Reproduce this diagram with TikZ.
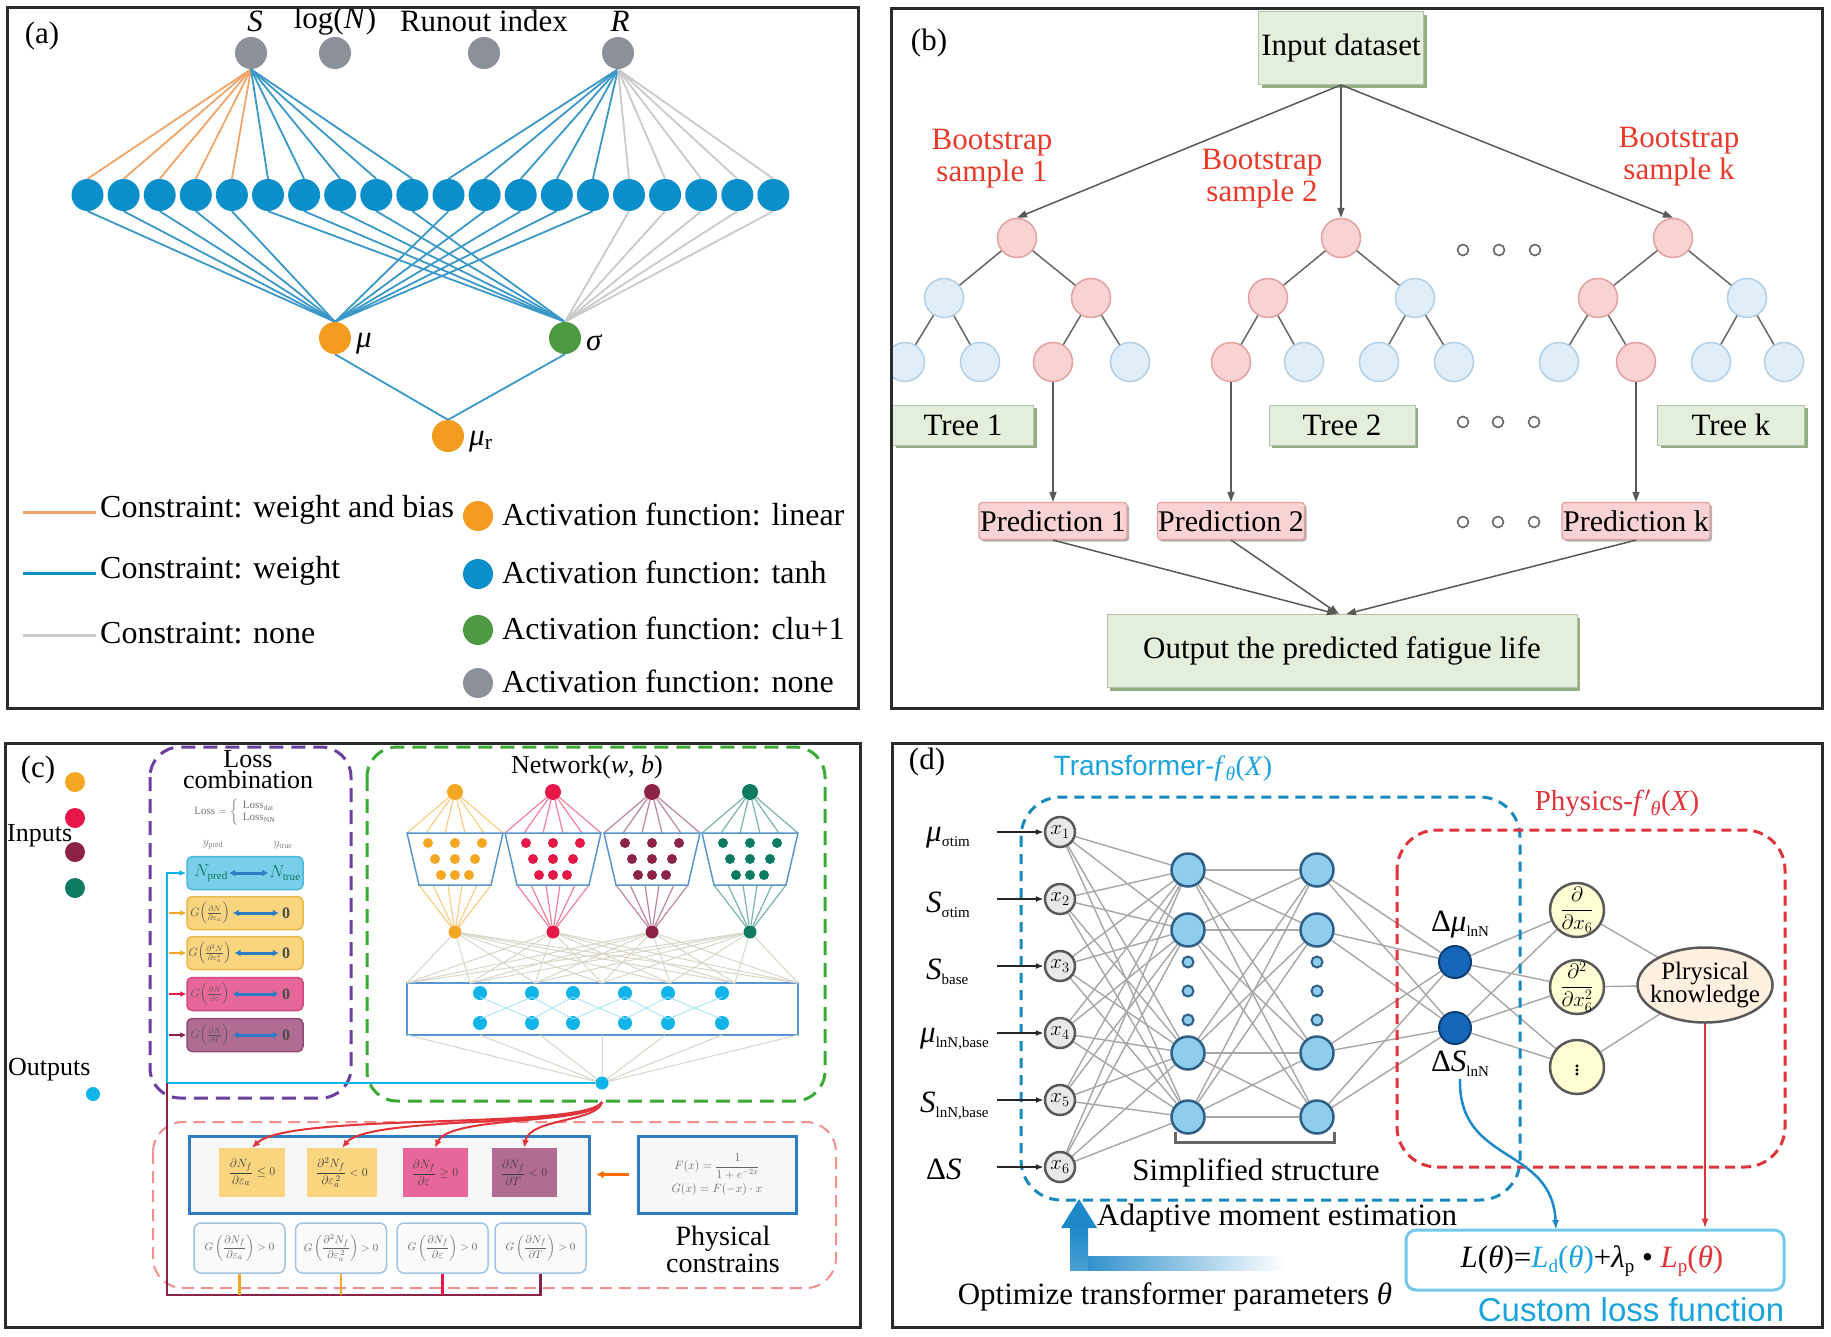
\documentclass[tikz,border=0pt]{standalone}
\usepackage{amsmath}
\usepackage{fontspec}
\setmainfont{Liberation Serif}
\newfontfamily\sansf{Liberation Sans}
\usetikzlibrary{arrows.meta,shapes.geometric,shadows}
\pgfdeclarelayer{bgw}
\pgfdeclarelayer{bg}
\pgfsetlayers{bgw,bg,main}
\definecolor{aOr}{HTML}{F39C1F}
\definecolor{aOrL}{HTML}{F0A56A}
\definecolor{aBl}{HTML}{0A8FCB}
\definecolor{aBlL}{HTML}{3A98C8}
\definecolor{aGr}{HTML}{4E9A43}
\definecolor{aGy}{HTML}{8C9099}
\definecolor{aGyL}{HTML}{CACACA}
\definecolor{bRed}{HTML}{E8392A}
\definecolor{bRF}{HTML}{F9D3D3}
\definecolor{bRD}{HTML}{E2A0A0}
\definecolor{bBF}{HTML}{DFEEF9}
\definecolor{bBD}{HTML}{B3CFE5}
\definecolor{bGF}{HTML}{E3EFDA}
\definecolor{bGS}{HTML}{93AE80}
\definecolor{cOr}{HTML}{F5A623}
\definecolor{cCr}{HTML}{E8174A}
\definecolor{cMa}{HTML}{8B2346}
\definecolor{cTe}{HTML}{0E7A5F}
\definecolor{cCy}{HTML}{10B4E6}
\definecolor{cPu}{HTML}{6A3FA0}
\definecolor{cGn}{HTML}{3AAA35}
\definecolor{cPk}{HTML}{F29090}
\definecolor{cBx}{HTML}{2E7CC4}
\definecolor{cLn}{HTML}{D8D6C8}
\definecolor{cYF}{HTML}{F8D57E}
\definecolor{cYD}{HTML}{E8B84A}
\definecolor{cPF}{HTML}{E7679A}
\definecolor{cPD}{HTML}{D04A80}
\definecolor{cMF}{HTML}{B06C93}
\definecolor{cMD}{HTML}{8F4A75}
\definecolor{cCF}{HTML}{79CFEA}
\definecolor{cCD}{HTML}{4DB8DC}
\definecolor{dCy}{HTML}{1AA3DD}
\definecolor{dRd}{HTML}{E0343A}
\definecolor{dHid}{HTML}{8FCDEF}
\definecolor{dHidD}{HTML}{2F5F85}
\definecolor{dOut}{HTML}{1565B8}
\definecolor{dOutD}{HTML}{0D3F73}
\definecolor{dArr}{HTML}{1E88C8}
\definecolor{frm}{HTML}{2B2B2B}
\newcommand{\sbs}[1]{\raisebox{-0.35ex}{\fontsize{15}{15}\selectfont #1}}
\newcommand{\sbm}[1]{\raisebox{-0.35ex}{\fontsize{19}{19}\selectfont #1}}
\begin{document}
\begin{tikzpicture}[x=1pt,y=-1pt,
  every node/.style={font=\fontsize{31}{35}\selectfont, inner sep=2pt},
  lgtext/.style={anchor=west,font=\fontsize{32}{36}\selectfont},
  anode/.style={circle,minimum size=32pt,inner sep=0pt},
  lgnode/.style={circle,minimum size=30pt,inner sep=0pt},
  tR/.style={circle,minimum size=39pt,inner sep=0pt,fill=bRF,draw=bRD,line width=1.5pt},
  tB/.style={circle,minimum size=39pt,inner sep=0pt,fill=bBF,draw=bBD,line width=1.5pt},
  tedge/.style={draw=black!60,line width=1.5pt},
  barrow/.style={draw=black!65,line width=1.5pt,-{Triangle[length=10pt,width=7pt]}},
  gbox/.style={rectangle,fill=bGF,draw=bGF!80!black,line width=0.8pt,inner sep=0pt,
    drop shadow={shadow xshift=3pt,shadow yshift=-3pt,fill=bGS,opacity=1}},
  pbox/.style={rectangle,rounded corners=3pt,fill=bRF,draw=bRD,line width=1.2pt,inner sep=0pt,
    font=\fontsize{30}{34}\selectfont,
    drop shadow={shadow xshift=2pt,shadow yshift=-2pt,fill=black!30,opacity=1}},
  odot/.style={circle,draw=black!60,line width=1.6pt,fill=white,minimum size=11pt,inner sep=0pt},
  lbox/.style={rectangle,rounded corners=5pt,minimum width=116pt,minimum height=33pt,line width=1.5pt,inner sep=0pt},
  dbl/.style={draw=cBx,line width=3pt,{Latex[length=6pt,width=7pt]}-{Latex[length=6pt,width=7pt]}},
  qbox/.style={rectangle,minimum height=49pt,inner sep=0pt,draw=none},
  gcbox/.style={rectangle,rounded corners=7pt,minimum width=91pt,minimum height=50pt,draw=cBx!45,fill=black!2,line width=1.5pt,inner sep=0pt},
  redc/.style={draw=dRd,line width=2pt,-{Latex[length=8pt,width=7pt]}},
  stub/.style={line width=2.5pt,-{Latex[length=6pt,width=6pt]}},
  xin/.style={circle,minimum size=30pt,inner sep=0pt,fill=black!9,draw=black!65,line width=2.5pt},
  hid/.style={circle,minimum size=33pt,inner sep=0pt,fill=dHid,draw=dHidD,line width=2.5pt},
  hdot/.style={circle,minimum size=11pt,inner sep=0pt,fill=dHid,draw=dHidD,line width=2pt},
  onode/.style={circle,minimum size=32pt,inner sep=0pt,fill=dOut,draw=dOutD,line width=2pt},
  dnode/.style={circle,minimum size=54pt,inner sep=0pt,fill=yellow!18,draw=black!65,line width=2.5pt},
  dline/.style={draw=black!35,line width=1.4pt},
  inarrow/.style={draw=black!85,line width=1.8pt,-{Latex[length=8pt,width=6pt]}},
  frame/.style={draw=frm,line width=3pt}
]
\begin{pgfonlayer}{bgw}
\fill[white] (0,0) rectangle (1831,1336);
\end{pgfonlayer}
\useasboundingbox (0,0) rectangle (1831,1336);

%%%%%%%%%%%%%%%% (a)
\node (la) at (42,36) {(a)};
\foreach \i in {1,...,20}{\node[anode,fill=aBl] (h\i) at ({87.5+36.1*(\i-1)},195) {};}
\node[anode,fill=aGy] (S) at (251,53) {};
\node[anode,fill=aGy] (logN) at (335,53) {};
\node[anode,fill=aGy] (RI) at (484,53) {};
\node[anode,fill=aGy] (R) at (618,53) {};
\node (Slab) at (255,21) {\textit{S}};
\node (loglab) at (335,21) {log(\textit{N})};
\node (rilab) at (484,21) {Runout index};
\node (Rlab) at (620,21) {\textit{R}};
\node[anode,fill=aOr] (mu) at (335,338) {};
\node[anode,fill=aGr] (sig) at (565,338) {};
\node[anode,fill=aOr] (mur) at (448,436) {};
\node[anchor=west] (mulab) at (354,344) {\textit{μ}};
\node[anchor=west] (siglab) at (584,343) {\textit{σ}};
\node[anchor=west] (murlab) at (467,442) {\textit{μ}\textsubscript{r}};
\begin{pgfonlayer}{bg}
\foreach \i in {1,...,5}{\draw[aOrL,line width=1.8pt] (S.south) -- (h\i.north);}
\foreach \i in {6,...,10}{\draw[aBlL,line width=1.8pt] (S.south) -- (h\i.north);}
\foreach \i in {11,...,15}{\draw[aBlL,line width=1.8pt] (R.south) -- (h\i.north);}
\foreach \i in {16,...,20}{\draw[aGyL,line width=1.8pt] (R.south) -- (h\i.north);}
\foreach \i in {1,...,5,11,12,13,14,15}{\draw[aBlL,line width=1.8pt] (h\i.south) -- (mu.north);}
\foreach \i in {6,...,10}{\draw[aBlL,line width=1.8pt] (h\i.south) -- (sig.north);}
\foreach \i in {16,...,20}{\draw[aGyL,line width=1.8pt] (h\i.south) -- (sig.north);}
\draw[aBlL,line width=1.8pt] (mu.south) -- (mur.north);
\draw[aBlL,line width=1.8pt] (sig.south) -- (mur.north);
\end{pgfonlayer}
% legend
\coordinate (lo1) at (23,512); \coordinate (lo2) at (96,512);
\coordinate (lb1) at (23,573); \coordinate (lb2) at (96,573);
\coordinate (lg1) at (23,635); \coordinate (lg2) at (96,635);
\draw[aOrL,line width=3pt] (lo1) -- (lo2);
\draw[aBl,line width=3pt] (lb1) -- (lb2);
\draw[aGyL,line width=3pt] (lg1) -- (lg2);
\node[lgtext] (lt1) at (98,510) {Constraint: weight and bias};
\node[lgtext] (lt2) at (98,571) {Constraint: weight};
\node[lgtext] (lt3) at (98,633) {Constraint: none};
\node[lgnode,fill=aOr] (lc1) at (478,516) {};
\node[lgnode,fill=aBl] (lc2) at (478,574) {};
\node[lgnode,fill=aGr] (lc3) at (478,630) {};
\node[lgnode,fill=aGy] (lc4) at (478,683) {};
\node[lgtext] (la1) at (500,514) {Activation function: linear};
\node[lgtext] (la2) at (500,572) {Activation function: tanh};
\node[lgtext] (la3) at (500,628) {Activation function: clu+1};
\node[lgtext] (la4) at (500,681) {Activation function: none};

%%%%%%%%%%%%%%%% (b)
\begin{scope}
\clip (891,8) rectangle (1822,708);
\node (lb) at (929,43) {(b)};
\node[gbox,minimum width=165pt,minimum height=73pt] (inbox) at (1341,48) {Input dataset};
\node[text=bRed,align=center,font=\fontsize{31}{32}\selectfont] (bs1) at (992,159) {Bootstrap\\sample 1};
\node[text=bRed,align=center,font=\fontsize{31}{32}\selectfont] (bs2) at (1262,179) {Bootstrap\\sample 2};
\node[text=bRed,align=center,font=\fontsize{31}{32}\selectfont] (bsk) at (1679,157) {Bootstrap\\sample k};
% tree 1
\node[tR] (r1) at (1017,238) {};
\node[tB] (r1L) at (944,298) {};
\node[tR] (r1R) at (1091,298) {};
\node[tB] (r1LL) at (905,362) {};
\node[tB] (r1LR) at (980,362) {};
\node[tR] (r1RL) at (1053,362) {};
\node[tB] (r1RR) at (1130,362) {};
% tree 2
\node[tR] (r2) at (1341,238) {};
\node[tR] (r2L) at (1268,298) {};
\node[tB] (r2R) at (1415,298) {};
\node[tR] (r2LL) at (1231,362) {};
\node[tB] (r2LR) at (1304,362) {};
\node[tB] (r2RL) at (1379,362) {};
\node[tB] (r2RR) at (1454,362) {};
% tree k
\node[tR] (rk) at (1673,238) {};
\node[tR] (rkL) at (1598,298) {};
\node[tB] (rkR) at (1747,298) {};
\node[tB] (rkLL) at (1559,362) {};
\node[tR] (rkLR) at (1636,362) {};
\node[tB] (rkRL) at (1711,362) {};
\node[tB] (rkRR) at (1784,362) {};
\foreach \t in {1,2,k}{
  \draw[tedge] (r\t) -- (r\t L);
  \draw[tedge] (r\t) -- (r\t R);
  \draw[tedge] (r\t L) -- (r\t LL);
  \draw[tedge] (r\t L) -- (r\t LR);
  \draw[tedge] (r\t R) -- (r\t RL);
  \draw[tedge] (r\t R) -- (r\t RR);
}
\draw[barrow] (inbox.south) -- (r1.north);
\draw[barrow] (inbox.south) -- (r2.north);
\draw[barrow] (inbox.south) -- (rk.north);
\node[odot] (bd1) at (1463,250) {};
\node[odot] (bd2) at (1499,250) {};
\node[odot] (bd3) at (1535,250) {};
\node[gbox,minimum width=141pt,minimum height=40pt] (tree1) at (963,425) {Tree 1};
\node[gbox,minimum width=146pt,minimum height=40pt] (tree2) at (1342,425) {Tree 2};
\node[gbox,minimum width=147pt,minimum height=40pt] (treek) at (1731,425) {Tree k};
\node[odot] (td1) at (1463,422) {};
\node[odot] (td2) at (1498,422) {};
\node[odot] (td3) at (1534,422) {};
\node[pbox,minimum width=148pt,minimum height=37pt] (pr1) at (1053,521) {Prediction 1};
\node[pbox,minimum width=147pt,minimum height=37pt] (pr2) at (1231,521) {Prediction 2};
\node[pbox,minimum width=148pt,minimum height=37pt] (prk) at (1636,521) {Prediction k};
\node[odot] (pd1) at (1463,522) {};
\node[odot] (pd2) at (1498,522) {};
\node[odot] (pd3) at (1534,522) {};
\draw[barrow] (r1RL.south) -- (pr1.north);
\draw[barrow] (r2LL.south) -- (pr2.north);
\draw[barrow] (rkLR.south) -- (prk.north);
\node[gbox,minimum width=470pt,minimum height=73pt] (outbox) at (1342,651) {Output the predicted fatigue life};
\draw[barrow] (pr1.south) -- ([xshift=-5pt]outbox.north);
\draw[barrow] (pr2.south) -- ([xshift=-3pt]outbox.north);
\draw[barrow] (prk.south) -- ([xshift=4pt]outbox.north);
\end{scope}

%%%%%%%%%%%%%%%% (c)
\node (lcc) at (38,770) {(c)};
\node[circle,fill=cOr,minimum size=20pt,inner sep=0pt] (in1) at (75,782) {};
\node[circle,fill=cCr,minimum size=20pt,inner sep=0pt] (in2) at (75,818) {};
\node[circle,fill=cMa,minimum size=20pt,inner sep=0pt] (in3) at (75,852) {};
\node[circle,fill=cTe,minimum size=20pt,inner sep=0pt] (in4) at (75,888) {};
\node[anchor=west,font=\fontsize{26}{28}\selectfont,inner sep=0pt] (inlab) at (7,836) {Inputs};
\node[anchor=west,font=\fontsize{26}{28}\selectfont,inner sep=0pt] (outlab) at (8,1070) {Outputs};
\node[circle,fill=cCy,minimum size=14pt,inner sep=0pt] (outdot) at (93,1094) {};
% dashed groups
\draw[cPu,line width=3pt,dash pattern=on 14pt off 8pt,rounded corners=30pt] (150,747) rectangle (351,1098);
\draw[cGn,line width=3pt,dash pattern=on 14pt off 8pt,rounded corners=30pt] (367,747) rectangle (825,1101);
\draw[cPk,line width=2pt,dash pattern=on 12pt off 7pt,rounded corners=30pt] (153,1122) rectangle (836,1288);
\node[align=center,font=\fontsize{26}{21}\selectfont] (lcomb) at (248,770) {Loss\\combination};
\node[font=\fontsize{11}{12}\selectfont,text=black!55] (lossf) at (238,812) {$\mathrm{Loss}=\left\{\begin{array}{l}\mathrm{Loss}_{\mathrm{dat}}\\ \mathrm{Loss}_{\mathrm{NN}}\end{array}\right.$};
\node[font=\fontsize{12}{13}\selectfont,text=black!50] (ypred) at (213,845) {$y_{\mathrm{pred}}$};
\node[font=\fontsize{12}{13}\selectfont,text=black!50] (ytrue) at (283,845) {$y_{\mathrm{true}}$};
\node[lbox,fill=cCF,draw=cCD] (lN) at (245,873) {};
\node[lbox,fill=cYF,draw=cYD] (lY1) at (245,913) {};
\node[lbox,fill=cYF,draw=cYD] (lY2) at (245,953) {};
\node[lbox,fill=cPF,draw=cPD] (lP) at (245,994) {};
\node[lbox,fill=cMF,draw=cMD] (lM) at (245,1035) {};
\node[font=\fontsize{16}{17}\selectfont,text=cTe,inner sep=1pt] (np) at (211,873) {$N_{\mathrm{pred}}$};
\node[font=\fontsize{16}{17}\selectfont,text=cTe,inner sep=1pt] (nt) at (285,873) {$N_{\mathrm{true}}$};
\draw[dbl] (np.east) -- (nt.west);
\node[font=\fontsize{12}{13}\selectfont,text=black!65,inner sep=0pt] (g1t) at (210,913) {$G\Big(\frac{\partial N}{\partial \varepsilon_a}\Big)$};
\node[font=\fontsize{12}{13}\selectfont,text=black!65,inner sep=0pt] (g2t) at (210,953) {$G\Big(\frac{\partial^2 N}{\partial \varepsilon_a^2}\Big)$};
\node[font=\fontsize{12}{13}\selectfont,text=black!65,inner sep=0pt] (g3t) at (210,994) {$G\Big(\frac{\partial N}{\partial \varepsilon}\Big)$};
\node[font=\fontsize{12}{13}\selectfont,text=black!65,inner sep=0pt] (g4t) at (210,1035) {$G\Big(\frac{\partial N}{\partial T}\Big)$};
\foreach \yy/\nm in {913/z1,953/z2,994/z3,1035/z4}{
  \node[font=\bfseries\fontsize{16}{17}\selectfont,text=black!70,inner sep=0pt] (\nm) at (286,\yy) {0};
}
\draw[dbl] ([xshift=3pt]g1t.east) -- ([xshift=-3pt]z1.west);
\draw[dbl] ([xshift=3pt]g2t.east) -- ([xshift=-3pt]z2.west);
\draw[dbl] ([xshift=3pt]g3t.east) -- ([xshift=-3pt]z3.west);
\draw[dbl] ([xshift=3pt]g4t.east) -- ([xshift=-3pt]z4.west);
\draw[stub,cOr] (169,913) -- (lY1.west);
\draw[stub,cOr] (169,953) -- (lY2.west);
\draw[stub,cCr] (169,994) -- (lP.west);
\draw[stub,cMa] (169,1035) -- (lM.west);
% network
\node[font=\fontsize{26}{28}\selectfont] (netlab) at (587,767) {Network(\textit{w}, \textit{b})};
\foreach \cx/\col [count=\k] in {455/cOr,553/cCr,652/cMa,750/cTe}{
  \node[circle,fill=\col,minimum size=16pt,inner sep=0pt] (ct\k) at (\cx,792) {};
  \node[circle,fill=\col,minimum size=13pt,inner sep=0pt] (cb\k) at (\cx,932) {};
  \foreach \o in {-48,-29,-10,10,29,48}{\draw[\col!55,line width=1.2pt] (ct\k) -- ({\cx+\o},833);}
  \foreach \o in {-36,-22,-7,7,22,36}{\draw[\col!55,line width=1.2pt] ({\cx+\o},885) -- (cb\k);}
  \draw[cBx!80,line width=1.5pt,fill=white] ({\cx-48},833) -- ({\cx+48},833) -- ({\cx+36},885) -- ({\cx-36},885) -- cycle;
  \foreach \o in {-27,0,27}{\fill[\col] ({\cx+\o},843) circle (5pt);}
  \foreach \o in {-20,0,20}{\fill[\col] ({\cx+\o},859) circle (5pt);}
  \foreach \o in {-14,0,14}{\fill[\col] ({\cx+\o},875) circle (5pt);}
}
\node[draw=cBx!80,line width=1.5pt,minimum width=391pt,minimum height=52pt,inner sep=0pt] (wbox) at (602.5,1009) {};
\foreach \k in {1,...,4}{\foreach \px in {407,470,535,602,670,735,798}{\draw[cLn,line width=1pt] (cb\k) -- (\px,983);}}
\foreach \px in {480,532,573,625,668,722}{
  \fill[cCy] (\px,993) circle (7pt);
  \fill[cCy] (\px,1023) circle (7pt);
}
\foreach \a/\b in {480/532,532/480,532/573,573/532,573/625,625/573,625/668,668/625,668/722,722/668}{\draw[cCy!40,line width=0.8pt] (\a,997) -- (\b,1019);}
\node[circle,fill=cCy,minimum size=13pt,inner sep=0pt] (cout) at (602,1083) {};
\foreach \px in {407,480,540,602,665,722,798}{\draw[cLn,line width=1pt] (\px,1035) -- (cout);}
\draw[cCy,line width=2.5pt,-{Latex[length=7pt,width=6pt]}] (cout.west) -- (167,1083) |- (lN.west);
% physical constraints
\node[rectangle,draw=cBx,line width=3pt,fill=black!3,minimum width=400pt,minimum height=77pt,inner sep=0pt] (cbox) at (389,1174.5) {};
\node[qbox,fill=cYF,minimum width=66pt] (q1) at (252,1172.5) {};
\node[qbox,fill=cYF,minimum width=70pt] (q2) at (342,1172.5) {};
\node[qbox,fill=cPF,minimum width=65pt] (q3) at (435,1172.5) {};
\node[qbox,fill=cMF,minimum width=65pt] (q4) at (524,1172.5) {};
\node[font=\fontsize{13}{14}\selectfont,text=black!75,inner sep=0pt] at (q1) {$\dfrac{\partial N_f}{\partial \varepsilon_a}\le 0$};
\node[font=\fontsize{13}{14}\selectfont,text=black!75,inner sep=0pt] at (q2) {$\dfrac{\partial^2 N_f}{\partial \varepsilon_a^{\,2}}<0$};
\node[font=\fontsize{13}{14}\selectfont,text=black!75,inner sep=0pt] at (q3) {$\dfrac{\partial N_f}{\partial \varepsilon}\ge 0$};
\node[font=\fontsize{13}{14}\selectfont,text=black!75,inner sep=0pt] at (q4) {$\dfrac{\partial N_f}{\partial T}<0$};
\draw[redc] (602,1102) .. controls (585,1130) and (290,1112) .. (q1.north);
\draw[redc] (602,1102) .. controls (590,1128) and (370,1115) .. (q2.north);
\draw[redc] (602,1102) .. controls (595,1125) and (450,1115) .. (q3.north);
\draw[redc] (602,1102) .. controls (598,1122) and (530,1118) .. (q4.north);
\node[rectangle,draw=cBx,line width=3pt,fill=black!3,minimum width=158pt,minimum height=77pt,inner sep=0pt] (fbox) at (717,1174.5) {};
\node[font=\fontsize{12}{14}\selectfont,text=black!60,align=center] at (fbox) {$F(x)=\dfrac{1}{1+e^{-2x}}$\\[3pt] $G(x)=F(-x)\cdot x$};
\draw[draw=orange!85!red,line width=3pt,-{Latex[length=7pt,width=8pt]}] ([xshift=-8pt]fbox.west) -- ([xshift=6pt]cbox.east);
\node[align=center,font=\fontsize{28}{27}\selectfont] (phc) at (723,1249) {Physical\\constrains};
\node[gcbox] (g1) at (239.5,1248) {};
\node[gcbox] (g2) at (341,1248) {};
\node[gcbox] (g3) at (442.5,1248) {};
\node[gcbox] (g4) at (540.5,1248) {};
\node[font=\fontsize{11}{12}\selectfont,text=black!60,inner sep=0pt] at (g1) {$G\left(\dfrac{\partial N_f}{\partial \varepsilon_a}\right)>0$};
\node[font=\fontsize{11}{12}\selectfont,text=black!60,inner sep=0pt] at (g2) {$G\left(\dfrac{\partial^2 N_f}{\partial \varepsilon_a^{\,2}}\right)>0$};
\node[font=\fontsize{11}{12}\selectfont,text=black!60,inner sep=0pt] at (g3) {$G\left(\dfrac{\partial N_f}{\partial \varepsilon}\right)>0$};
\node[font=\fontsize{11}{12}\selectfont,text=black!60,inner sep=0pt] at (g4) {$G\left(\dfrac{\partial N_f}{\partial T}\right)>0$};
\draw[cMa,line width=2.5pt] (g4.south) -- (540.5,1295) -- (167,1295) -- (167,1083);
\draw[cOr,line width=2.5pt] (g1.south) -- (239.5,1295);
\draw[cOr,line width=2.5pt] (g2.south) -- (341,1295);
\draw[cCr,line width=2.5pt] (g3.south) -- (442.5,1295);

%%%%%%%%%%%%%%%% (d)
\node (ld) at (927,762) {(d)};
\node[font=\sansf\fontsize{28}{30}\selectfont,text=dCy] (tflab) at (1163,768) {Transformer-{\rmfamily\textit{f}\textsubscript{\textit{θ}}(\textit{X})}};
\node[text=dRd,font=\fontsize{29}{30}\selectfont] (phlab) at (1617,803) {Physics-\textit{f}$^{\prime}$\textsubscript{\textit{θ}}(\textit{X})};
\draw[dCy!85!black,line width=3pt,dash pattern=on 10pt off 7pt,rounded corners=40pt] (1021,797) rectangle (1520,1200);
\draw[dRd,line width=3pt,dash pattern=on 10pt off 6pt,rounded corners=40pt] (1397,830) rectangle (1785,1167);
% inputs
\foreach \yy [count=\i] in {832,899,966,1033,1100,1167}{
  \node[xin] (x\i) at (1060,\yy) {};
  \node[font=\fontsize{21}{22}\selectfont] at (x\i) {$x_{\i}$};
  \draw[inarrow] (997,\yy) -- (x\i.west);
}
\node[anchor=west] (il1) at (924,838) {\textit{μ}\sbs{σtim}};
\node[anchor=west] (il2) at (924,905) {\textit{S}\sbs{σtim}};
\node[anchor=west] (il3) at (924,972) {\textit{S}\sbs{base}};
\node[anchor=west] (il4) at (918,1039) {\textit{μ}\sbs{lnN,base}};
\node[anchor=west] (il5) at (918,1106) {\textit{S}\sbs{lnN,base}};
\node[anchor=west] (il6) at (924,1169) {Δ\textit{S}};
% hidden
\foreach \yy [count=\j] in {870,930,1053,1117}{
  \node[hid] (a\j) at (1188,\yy) {};
  \node[hid] (b\j) at (1317,\yy) {};
}
\foreach \yy [count=\j] in {962,991,1020}{
  \node[hdot] (ad\j) at (1188,\yy) {};
  \node[hdot] (bd\j) at (1317,\yy) {};
}
\node[onode] (o1) at (1455,962) {};
\node[onode] (o2) at (1455,1028) {};
\node (o1lab) at (1460,925) {Δ\textit{μ}\sbs{lnN}};
\node (o2lab) at (1460,1064) {Δ\textit{S}\sbs{lnN}};
\node[dnode] (p1) at (1577,910) {};
\node[dnode] (p2) at (1577,987) {};
\node[dnode] (p3) at (1577,1067) {};
\node[font=\fontsize{20}{21}\selectfont,inner sep=0pt] at (p1) {$\dfrac{\partial}{\partial x_6}$};
\node[font=\fontsize{20}{21}\selectfont,inner sep=0pt] at (p2) {$\dfrac{\partial^2}{\partial x_6^2}$};
\node[font=\fontsize{24}{24}\selectfont,inner sep=0pt] at (p3) {$\vdots$};
\node[ellipse,minimum width=135pt,minimum height=75pt,inner sep=0pt,fill=orange!12,draw=black!65,line width=2.5pt] (phys) at (1705,985) {};
\node[align=center,font=\fontsize{25}{21}\selectfont] at (phys) {Plrysical\\knowledge};
\begin{pgfonlayer}{bg}
\foreach \i in {1,...,6}{\foreach \j in {1,...,4}{\draw[dline] (x\i) -- (a\j);}}
\foreach \i in {1,...,4}{\foreach \j in {1,...,4}{\draw[dline] (a\i) -- (b\j);}}
\foreach \i in {1,...,4}{\draw[dline] (b\i) -- (o1); \draw[dline] (b\i) -- (o2);}
\foreach \k in {1,2,3}{\draw[dline] (o1) -- (p\k); \draw[dline] (o2) -- (p\k); \draw[dline] (p\k) -- (phys);}
\end{pgfonlayer}
\draw[black!60,line width=3pt] (1175,1132) -- (1175,1142) -- (1334,1142) -- (1334,1132);
\node (simp) at (1256,1173) {Simplified structure};
\node[anchor=west] (adam) at (1095,1218) {Adaptive moment estimation};
\shade[left color=dArr,right color=white] (1070,1256) rectangle (1285,1270);
\shade[top color=dArr,bottom color=dArr!80] (1070,1226) rectangle (1088,1270);
\fill[dArr] (1061,1228) -- (1079,1199) -- (1097,1228) -- cycle;
\node (opt) at (1175,1297) {Optimize transformer parameters \textit{θ}};
\node[rectangle,rounded corners=10pt,draw=dCy!60,line width=3pt,minimum width=378pt,minimum height=60pt,inner sep=0pt] (lossbox) at (1595,1260) {};
\node (lossf2) at (1592,1261) {\textit{L}(\textit{θ})=\textcolor{dCy}{\textit{L}\sbm{d}(\textit{θ})}+\textit{λ}\sbm{p} • \textcolor{dRd}{\textit{L}\sbm{p}(\textit{θ})}};
\node[font=\sansf\fontsize{33}{35}\selectfont,text=dCy] (clf) at (1631,1310) {Custom loss function};
\draw[dRd,line width=2.5pt,-{Latex[length=10pt,width=7pt]}] (phys.south) -- (phys.south |- lossbox.north);
\draw[dArr,line width=2.5pt,-{Latex[length=10pt,width=7pt]}] (o2lab.south) .. controls (1458,1165) and (1552,1145) .. (1556,1230);

%%%%%%%%%%%%%%%% frames
\draw[frame] (7,7) rectangle (858,708);
\draw[frame] (891,8) rectangle (1822,708);
\draw[frame] (5,743) rectangle (860,1327);
\draw[frame] (892,743) rectangle (1822,1327);
\end{tikzpicture}
\end{document}
